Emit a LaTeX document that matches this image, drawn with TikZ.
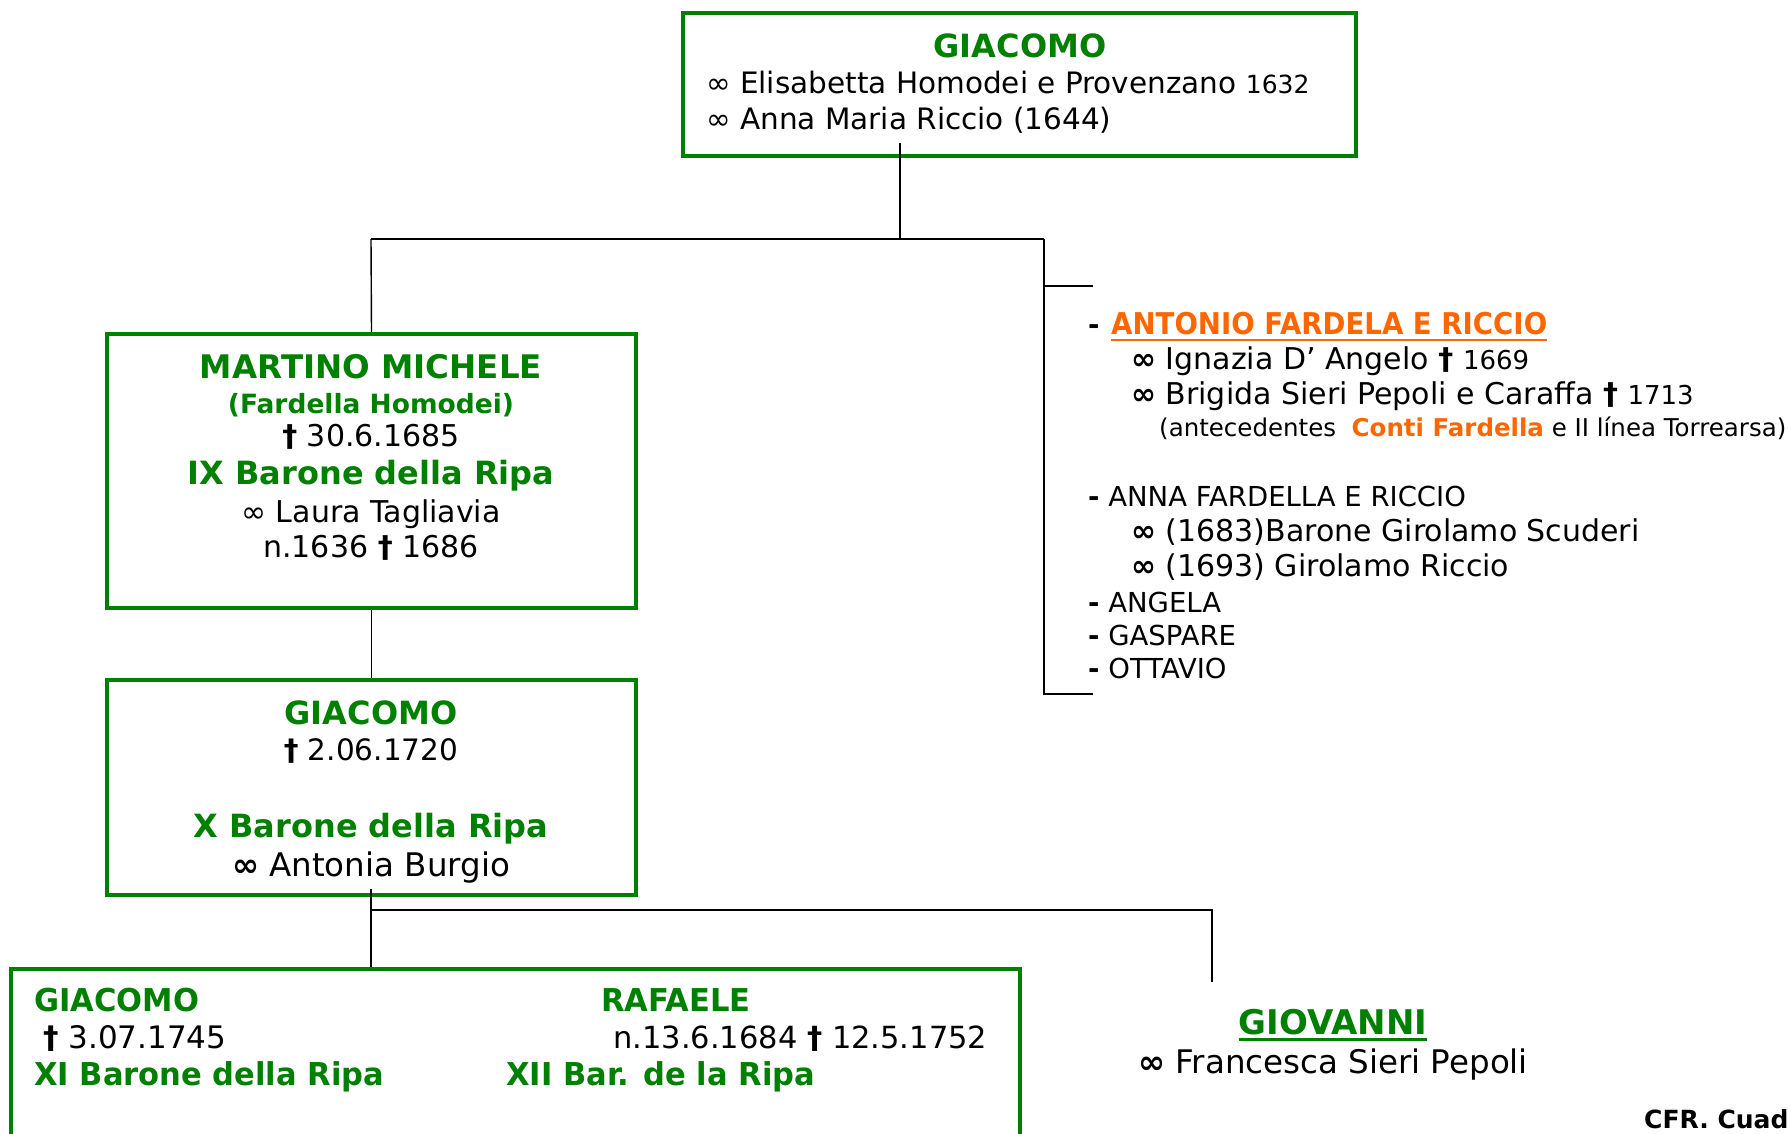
\documentclass[tikz,border=0pt]{standalone}
\usepackage{fontspec}
\setmainfont{DejaVu Sans}
\newfontfamily\narrowfont[FakeStretch=0.92]{DejaVu Sans}
\newfontfamily\semifont[FakeStretch=0.97]{DejaVu Sans}
\definecolor{famgreen}{RGB}{0,128,0}
\definecolor{famorange}{RGB}{255,102,0}
\newcommand\fsz[1]{\fontsize{#1}{#1}\selectfont}
\newcommand\dg{{\bfseries †}}
\newcommand\marr{∞}
\newcommand\bmarr{{\bfseries ∞}}
\begin{document}
\begin{tikzpicture}[x=1pt,y=-1pt,
  famBox/.style={draw=famgreen, line width=3.5pt, inner sep=0, rectangle},
  txt/.style={inner sep=0, anchor=mid},
  ltxt/.style={inner sep=0, anchor=mid west},
  gname/.style={text=famgreen, font=\bfseries\fsz{32}},
  sname/.style={text=famgreen, font=\semifont\bfseries\fsz{31.5}},
  lnk/.style={line width=1.4pt, draw=black}]
\useasboundingbox (0,0) rectangle (1791,1134);
\clip (0,0) rectangle (1791,1134);

% ---------- boxes ----------
\node[famBox, minimum width=673pt, minimum height=143pt] (top) at (1019.5,84.5) {};
\node[famBox, minimum width=529pt, minimum height=274pt] (mart) at (371.5,471) {};
\node[famBox, minimum width=529pt, minimum height=215pt] (giac) at (371.5,787.5) {};
\node[famBox, minimum width=1009pt, minimum height=260pt] (sons) at (515.5,1099) {};

% ---------- top couple ----------
\node[txt, gname] (t1) at (1020,55) {GIACOMO};
\node[ltxt, font=\fsz{29.5}] (t2) at (706,91) {\marr\ Elisabetta Homodei e Provenzano {\fsz{25}1632}};
\node[ltxt, font=\fsz{29.5}] (t3) at (706,127) {\marr\ Anna Maria Riccio (1644)};

% ---------- Martino Michele ----------
\node[txt, gname, font=\bfseries\fsz{32.5}] (m1) at (371,376) {MARTINO MICHELE};
\node[txt, text=famgreen, font=\bfseries\fsz{26.5}] (m2) at (371,411) {(Fardella Homodei)};
\node[txt, font=\fsz{30}] (m3) at (371,444) {\dg\ 30.6.1685};
\node[txt, gname] (m4) at (371,482) {IX Barone della Ripa};
\node[txt, font=\fsz{30}] (m5) at (371,520) {\marr\ Laura Tagliavia};
\node[txt, font=\fsz{30}] (m6) at (371,555) {n.1636 \dg\ 1686};

% ---------- Giacomo, X Barone ----------
\node[txt, gname] (g1) at (371,722) {GIACOMO};
\node[txt, font=\fsz{29.5}] (g2) at (371,758) {\dg\ 2.06.1720};
\node[txt, gname] (g3) at (371,835) {X Barone della Ripa};
\node[txt, font=\fsz{32.5}] (g4) at (371,874) {\bmarr\ Antonia Burgio};

% ---------- sons of Giacomo ----------
\node[ltxt, sname] (s1) at (34,1009) {GIACOMO};
\node[ltxt, font=\fsz{31}] (s2) at (43,1046) {\dg\ 3.07.1745};
\node[ltxt, sname] (s3) at (34,1083) {XI Barone della Ripa};
\node[ltxt, sname] (r1) at (601,1009) {RAFAELE};
\node[ltxt, font=\fsz{30.5}] (r2) at (613,1046) {n.13.6.1684 \dg\ 12.5.1752};
\node[ltxt, sname] (r3) at (506,1083) {XII Bar. de la Ripa};

\node[txt, text=famgreen, font=\bfseries\fsz{34}] (gv1) at (1333,1032) {GIOVANNI};
\draw[famgreen, line width=2.8pt] ([yshift=-5pt]gv1.base west) -- ([yshift=-5pt]gv1.base east);
\node[txt, font=\fsz{32.5}] (gv2) at (1333,1071) {\bmarr\ Francesca Sieri Pepoli};

\node[ltxt, font=\bfseries\fsz{25}] (cfr) at (1644,1126) {CFR. Cuad};

% ---------- other children of the first Giacomo ----------
\node[ltxt, font=\bfseries\fsz{27.5}] (d1) at (1088,332) {-};
\node[ltxt, text=famorange, font=\narrowfont\bfseries\fsz{30}] (a1) at (1111,332) {ANTONIO FARDELA E RICCIO};
\draw[famorange, line width=2.4pt] ([yshift=-5pt]a1.base west) -- ([yshift=-5pt]a1.base east);
\node[ltxt, font=\fsz{30}] (a2) at (1131,367) {\bmarr\ Ignazia D’ Angelo \dg\ {\fsz{26}1669}};
\node[ltxt, font=\fsz{30}] (a3) at (1131,402) {\bmarr\ Brigida Sieri Pepoli e Caraffa \dg\ {\fsz{26}1713}};
\node[ltxt, font=\fsz{24.5}] (a4) at (1159,434) {(antecedentes\ \ {\color{famorange}\bfseries Conti Fardella} e II línea Torrearsa)};

\node[ltxt, font=\fsz{27.5}] (b1) at (1088,504) {{\bfseries -} ANNA FARDELLA E RICCIO};
\node[ltxt, font=\fsz{30}] (b2) at (1131,539) {\bmarr\ (1683)Barone Girolamo Scuderi};
\node[ltxt, font=\fsz{30}] (b3) at (1131,574) {\bmarr\ (1693) Girolamo Riccio};
\node[ltxt, font=\fsz{27.5}] (c1) at (1088,610) {{\bfseries -} ANGELA};
\node[ltxt, font=\fsz{27.5}] (c2) at (1088,643) {{\bfseries -} GASPARE};
\node[ltxt, font=\fsz{27.5}] (c3) at (1088,676) {{\bfseries -} OTTAVIO};

% ---------- connectors ----------
\coordinate (topstem) at (900,143);
\coordinate (j1) at (900,239);
\coordinate (jl) at (371,239);
\coordinate (jr) at (1044,239);
\coordinate (br1) at (1044,286);
\coordinate (br2) at (1044,694);
\coordinate (tick1) at (1093,286);
\coordinate (tick2) at (1093,694);
\draw[lnk] (topstem) -- (j1);
\draw[lnk] (jl) -- (jr);
\draw[lnk] (jl) -- (mart.north);
\draw[lnk] (jr) -- (br2) -- (tick2);
\draw[lnk] (br1) -- (tick1);
\draw[lnk] (mart.south) -- (giac.north);

\coordinate (gstem) at (371,889);
\coordinate (k1) at (371,910);
\coordinate (kr) at (1212,910);
\coordinate (kend) at (1212,982);
\draw[lnk] (gstem) -- (gstem |- sons.north);
\draw[lnk] (k1) -- (kr) -- (kend);
\end{tikzpicture}
\end{document}
